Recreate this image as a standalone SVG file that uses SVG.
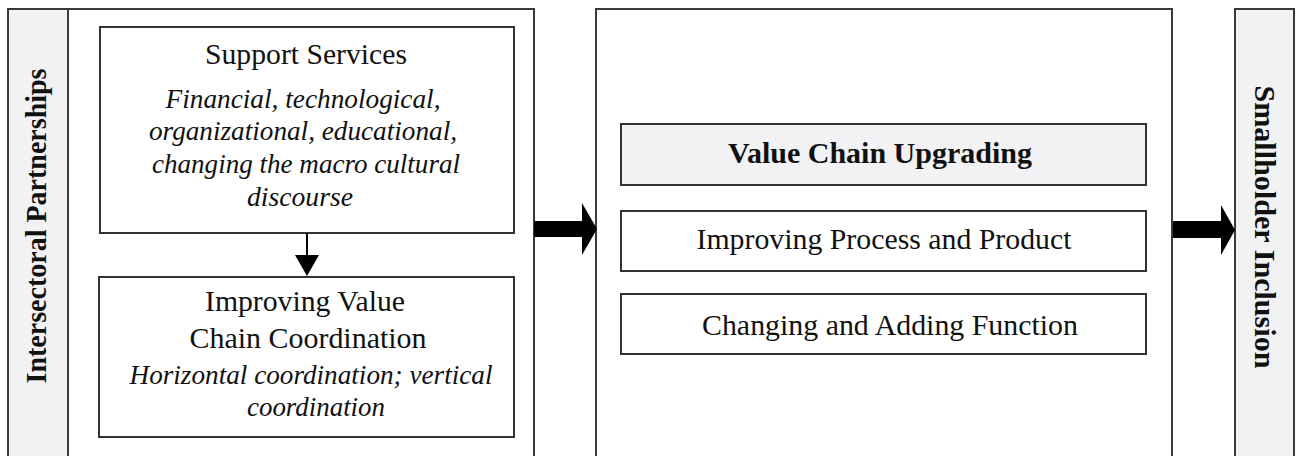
<svg xmlns="http://www.w3.org/2000/svg" width="1298" height="456" viewBox="0 0 1298 456">
  <style>
    .frame { fill: #ffffff; stroke: #3a3a3a; stroke-width: 2; }
    .band { fill: #f2f1f4; stroke: #3a3a3a; stroke-width: 2; }
    .box { fill: #ffffff; stroke: #333333; stroke-width: 2; }
    .hbox { fill: #f2f1f4; stroke: #333333; stroke-width: 2; }
    text { font-family: "Liberation Serif", "Times New Roman", serif; fill: #111111; text-anchor: middle; }
    .reg { font-size: 30px; }
    .it { font-size: 28px; font-style: italic; }
    .bold { font-size: 30px; font-weight: bold; }
    .side { font-size: 29px; font-weight: bold; }
    .arrow { fill: #000000; }
    .link { stroke: #000000; stroke-width: 2; fill: none; }
  </style>

  <rect width="1298" height="456" fill="#ffffff"/>

  <!-- left panel: partnerships -->
  <g id="partnerships">
    <rect class="frame" x="8" y="9" width="526" height="470"/>
    <rect class="band" x="8" y="9" width="60" height="470"/>
    <text class="side" transform="translate(46 226) rotate(-90)" textLength="315" lengthAdjust="spacingAndGlyphs">Intersectoral Partnerships</text>
  </g>

  <g id="support-services">
    <rect class="box" x="100" y="27" width="414" height="206"/>
    <text class="reg" x="306" y="64" textLength="202" lengthAdjust="spacingAndGlyphs">Support Services</text>
    <text class="it" x="303" y="108" textLength="275" lengthAdjust="spacingAndGlyphs">Financial, technological,</text>
    <text class="it" x="303" y="140" textLength="308" lengthAdjust="spacingAndGlyphs">organizational, educational,</text>
    <text class="it" x="306" y="173" textLength="308" lengthAdjust="spacingAndGlyphs">changing the macro cultural</text>
    <text class="it" x="300" y="206" textLength="106" lengthAdjust="spacingAndGlyphs">discourse</text>
  </g>

  <g id="coordination">
    <rect class="box" x="99" y="277" width="415" height="160"/>
    <text class="reg" x="305" y="311" textLength="200" lengthAdjust="spacingAndGlyphs">Improving Value</text>
    <text class="reg" x="308" y="348" textLength="237" lengthAdjust="spacingAndGlyphs">Chain Coordination</text>
    <text class="it" x="311" y="384" textLength="363" lengthAdjust="spacingAndGlyphs">Horizontal coordination; vertical</text>
    <text class="it" x="316" y="416" textLength="138" lengthAdjust="spacingAndGlyphs">coordination</text>
  </g>

  <!-- middle panel: upgrading -->
  <g id="upgrading">
    <rect class="frame" x="596" y="9" width="576" height="470"/>
  </g>

  <g id="value-chain-upgrading">
    <rect class="hbox" x="621" y="124" width="525" height="61"/>
    <text class="bold" x="880" y="163" textLength="304" lengthAdjust="spacingAndGlyphs">Value Chain Upgrading</text>
  </g>

  <g id="process-product">
    <rect class="box" x="621" y="211" width="525" height="60"/>
    <text class="reg" x="884" y="249" textLength="375" lengthAdjust="spacingAndGlyphs">Improving Process and Product</text>
  </g>

  <g id="adding-function">
    <rect class="box" x="621" y="294" width="525" height="60"/>
    <text class="reg" x="890" y="335" textLength="376" lengthAdjust="spacingAndGlyphs">Changing and Adding Function</text>
  </g>

  <!-- right panel: inclusion -->
  <g id="inclusion">
    <rect class="band" x="1235" y="9" width="59" height="470"/>
    <text class="side" transform="translate(1255 227) rotate(90)" textLength="283" lengthAdjust="spacingAndGlyphs">Smallholder Inclusion</text>
  </g>

  <!-- connectors -->
  <g id="connectors">
    <line class="link" x1="307" y1="233" x2="307" y2="256"/>
    <polygon class="arrow" points="295,255 319,255 307,276"/>
    <polygon class="arrow" points="534,221 582,221 582,203 597,229 582,255 582,237 534,237"/>
    <polygon class="arrow" points="1173,221 1221,221 1221,205 1235,230 1221,255 1221,238 1173,238"/>
  </g>
</svg>
